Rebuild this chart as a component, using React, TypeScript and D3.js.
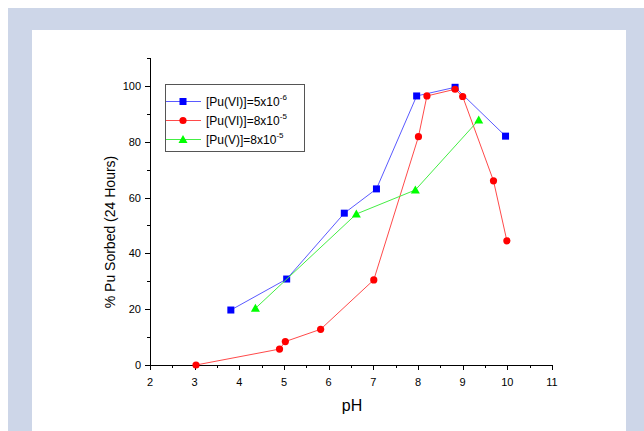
import React from "react";
import * as d3 from "d3";

// pH vs. percent Pu sorbed after 24 hours
const puVI5e6X = [3.81, 5.06, 6.35, 7.07, 7.97, 8.83, 9.96];
const puVI5e6Y = [19.7, 30.8, 54.4, 63.1, 96.4, 99.5, 82.0];

const puVI8e5X = [3.03, 4.9, 5.03, 5.82, 7.01, 8.01, 8.2, 8.83, 9.0, 9.69, 9.99];
const puVI8e5Y = [0.0, 5.7, 8.4, 12.8, 30.5, 81.8, 96.4, 98.8, 96.2, 66.0, 44.5];

const puV8e5X = [4.36, 6.62, 7.94, 9.36];
const puV8e5Y = [20.3, 54.1, 62.7, 87.8];

const xTicks = [2, 3, 4, 5, 6, 7, 8, 9, 10, 11];
const yTicks = [0, 20, 40, 60, 80, 100];

const legendLabels = ["[Pu(VI)]=5x10", "[Pu(VI)]=8x10", "[Pu(V)]=8x10"];
const legendExponents = ["-6", "-5", "-5"];

type Series = { xs: number[]; ys: number[]; line: string; fill: string; marker: "square" | "circle" | "triangle" };

const series: Series[] = [
  { xs: puVI5e6X, ys: puVI5e6Y, line: "#5a5aff", fill: "#0000ff", marker: "square" },
  { xs: puVI8e5X, ys: puVI8e5Y, line: "#ff4a4a", fill: "#ff0000", marker: "circle" },
  { xs: puV8e5X, ys: puV8e5Y, line: "#44ee44", fill: "#00ff00", marker: "triangle" },
];

const W = 644;
const H = 431;
const font = "Arial, 'Liberation Sans', sans-serif";

function Marker({ kind, cx, cy, fill }: { kind: Series["marker"]; cx: number; cy: number; fill: string }) {
  if (kind === "square") return <rect x={cx - 3.5} y={cy - 3.5} width={7} height={7} fill={fill} />;
  if (kind === "circle") return <circle cx={cx} cy={cy} r={3.6} fill={fill} />;
  const p = d3.path();
  p.moveTo(cx, cy - 4.5);
  p.lineTo(cx + 4.5, cy + 3.5);
  p.lineTo(cx - 4.5, cy + 3.5);
  p.closePath();
  return <path d={p.toString()} fill={fill} />;
}

export default function App() {
  const x = d3.scaleLinear().domain([2, 11]).range([150, 552]);
  const y = d3.scaleLinear().domain([0, 110]).range([365, 58]);
  const line = d3
    .line<[number, number]>()
    .x((d) => x(d[0]))
    .y((d) => y(d[1]));

  const xMinor = d3.range(2.5, 11, 1);
  const yMinor = d3.range(10, 111, 20);

  const legendX = 165;
  const legendY = 84;
  const rowY = [101, 120, 139];

  return (
    <div style={{ position: "fixed", left: 0, top: 0 }}>
      <svg width={W} height={H} style={{ display: "block" }}>
        <rect x={0} y={0} width={W} height={H} fill="#ffffff" />
        <rect x={8} y={8} width={W - 8} height={H - 8} fill="#cdd6e8" />
        <rect x={32} y={30} width={594} height={H - 30} fill="#ffffff" />

        {/* axes */}
        <g stroke="#000" strokeWidth={1} fill="none">
          <line x1={150.5} y1={y(110)} x2={150.5} y2={y(0) + 0.5} />
          <line x1={150} y1={y(0) + 0.5} x2={x(11)} y2={y(0) + 0.5} />
          {yTicks.map((t) => (
            <line key={"yt" + t} x1={145} x2={150} y1={Math.round(y(t)) + 0.5} y2={Math.round(y(t)) + 0.5} />
          ))}
          {yMinor.map((t) => (
            <line key={"ym" + t} x1={147} x2={150} y1={Math.round(y(t)) + 0.5} y2={Math.round(y(t)) + 0.5} />
          ))}
          {xTicks.map((t) => (
            <line key={"xt" + t} x1={Math.round(x(t)) + 0.5} x2={Math.round(x(t)) + 0.5} y1={y(0)} y2={y(0) + 5} />
          ))}
          {xMinor.map((t) => (
            <line key={"xm" + t} x1={Math.round(x(t)) + 0.5} x2={Math.round(x(t)) + 0.5} y1={y(0)} y2={y(0) + 3} />
          ))}
        </g>
        <g fontFamily={font} fontSize={11} fill="#000">
          {yTicks.map((t) => (
            <text key={"yl" + t} x={141} y={y(t) + 4} textAnchor="end">
              {t}
            </text>
          ))}
          {xTicks.map((t) => (
            <text key={"xl" + t} x={x(t)} y={386} textAnchor="middle">
              {t}
            </text>
          ))}
        </g>
        <text x={352} y={411} fontFamily={font} fontSize={16} textAnchor="middle" fill="#000">
          pH
        </text>
        <text
          transform={`translate(115,232) rotate(-90)`}
          fontFamily={font}
          fontSize={14}
          textAnchor="middle"
          fill="#000"
        >
          % Pu Sorbed (24 Hours)
        </text>

        {/* data */}
        {series.map((s, i) => {
          const pts = s.xs.map((v, j) => [v, s.ys[j]] as [number, number]);
          return (
            <g key={"s" + i}>
              <path d={line(pts) ?? ""} fill="none" stroke={s.line} strokeWidth={1} />
              {pts.map((p, j) => (
                <Marker key={j} kind={s.marker} cx={x(p[0])} cy={y(p[1])} fill={s.fill} />
              ))}
            </g>
          );
        })}

        {/* legend */}
        <rect x={legendX + 0.5} y={legendY + 0.5} width={139} height={67} fill="#fff" stroke="#555" strokeWidth={1} />
        {series.map((s, i) => (
          <g key={"lg" + i}>
            <line x1={legendX + 1} x2={legendX + 36} y1={rowY[i] + 0.5} y2={rowY[i] + 0.5} stroke={s.line} strokeWidth={1} />
            <Marker kind={s.marker} cx={183} cy={rowY[i] + 0.5} fill={s.fill} />
            <text x={206} y={rowY[i] + 5} fontFamily={font} fontSize={12} fill="#000">
              {legendLabels[i]}
              <tspan fontSize={8} dy={-6}>
                {legendExponents[i]}
              </tspan>
            </text>
          </g>
        ))}
      </svg>
    </div>
  );
}
